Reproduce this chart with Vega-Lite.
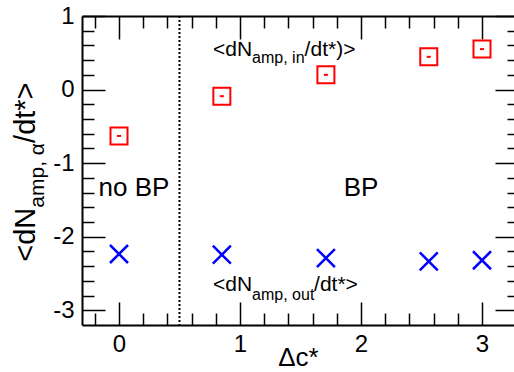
{
  "$schema": "https://vega.github.io/schema/vega-lite/v6.json",
  "width": 432,
  "height": 309,
  "autosize": {"type": "none"},
  "padding": {"left": 82, "top": 16, "right": 0, "bottom": 47},
  "background": "white",
  "config": {
    "view": {"stroke": null},
    "axis": {
      "grid": false,
      "domainColor": "black",
      "domainWidth": 2,
      "tickColor": "black",
      "tickWidth": 1.5,
      "labelFont": "Liberation Sans",
      "labelFontSize": 24,
      "labelColor": "black",
      "titleFont": "Liberation Sans",
      "titleColor": "black",
      "titleFontWeight": "normal",
      "labelOverlap": false,
      "labelFlush": false
    },
    "text": {"font": "Liberation Sans", "color": "black"}
  },
  "resolve": {"axis": {"x": "independent", "y": "independent"}},
  "layer": [
    {
      "data": {"values": [{"dc": 0.5}]},
      "mark": {"type": "rule", "color": "black", "strokeWidth": 2, "strokeDash": [2, 2]},
      "encoding": {
        "x": {"field": "dc", "type": "quantitative", "axis": null,
              "scale": {"domain": [-0.3058, 3.2645], "nice": false, "zero": false}}
      }
    },
    {
      "data": {"values": [
        {"dc": 0, "v": -0.63, "series": "in"},
        {"dc": 0.85, "v": -0.09, "series": "in"},
        {"dc": 1.71, "v": 0.2, "series": "in"},
        {"dc": 2.56, "v": 0.445, "series": "in"},
        {"dc": 3.0, "v": 0.55, "series": "in"}
      ]},
      "mark": {"type": "point", "shape": "square", "filled": false, "stroke": "#ff0000", "strokeWidth": 2, "size": 289, "opacity": 1},
      "encoding": {
        "x": {"field": "dc", "type": "quantitative",
              "scale": {"domain": [-0.3058, 3.2645], "nice": false, "zero": false},
              "axis": {
                "orient": "bottom",
                "values": [-0.2, 0, 0.2, 0.4, 0.6, 0.8, 1, 1.2, 1.4, 1.6, 1.8, 2, 2.2, 2.4, 2.6, 2.8, 3],
                "tickSize": {"condition": {"test": "abs(datum.value - round(datum.value)) < 0.001", "value": -23}, "value": -12},
                "labelExpr": "abs(datum.value - round(datum.value)) < 0.001 ? '' + round(datum.value) : ''",
                "labelPadding": 30,
                "title": "Δc*",
                "titleFontSize": 26,
                "titleBaseline": "alphabetic",
                "titleY": 40
              }},
        "y": {"field": "v", "type": "quantitative",
              "scale": {"domain": [-3.2, 1], "nice": false, "zero": false},
              "axis": {
                "orient": "left",
                "values": [-3, -2.8, -2.6, -2.4, -2.2, -2, -1.8, -1.6, -1.4, -1.2, -1, -0.8, -0.6, -0.4, -0.2, 0, 0.2, 0.4, 0.6, 0.8, 1],
                "tickSize": {"condition": {"test": "abs(datum.value - round(datum.value)) < 0.001", "value": -23}, "value": -12},
                "labelExpr": "abs(datum.value - round(datum.value)) < 0.001 ? '' + round(datum.value) : ''",
                "labelPadding": 31,
                "title": null
              }}
      }
    },
    {
      "data": {"values": [
        {"dc": 0, "v": -0.63},
        {"dc": 0.85, "v": -0.09},
        {"dc": 1.71, "v": 0.2},
        {"dc": 2.56, "v": 0.445},
        {"dc": 3.0, "v": 0.55}
      ]},
      "mark": {"type": "point", "shape": "M-1,-0.5L1,-0.5L1,0.5L-1,0.5Z", "filled": true, "fill": "#ff0000", "strokeWidth": 0, "size": 16, "opacity": 1},
      "encoding": {
        "x": {"field": "dc", "type": "quantitative", "axis": null},
        "y": {"field": "v", "type": "quantitative", "axis": null}
      }
    },
    {
      "data": {"values": [
        {"dc": 0, "v": -2.235, "series": "out"},
        {"dc": 0.85, "v": -2.245, "series": "out"},
        {"dc": 1.71, "v": -2.29, "series": "out"},
        {"dc": 2.56, "v": -2.335, "series": "out"},
        {"dc": 3.0, "v": -2.32, "series": "out"}
      ]},
      "mark": {"type": "point", "shape": "M-1,-1L1,1M-1,1L1,-1", "filled": false, "stroke": "#0000ff", "strokeWidth": 2.5, "size": 324, "opacity": 1},
      "encoding": {
        "x": {"field": "dc", "type": "quantitative",
              "axis": {
                "orient": "top",
                "values": [-0.2, 0, 0.2, 0.4, 0.6, 0.8, 1, 1.2, 1.4, 1.6, 1.8, 2, 2.2, 2.4, 2.6, 2.8, 3],
                "tickSize": {"condition": {"test": "abs(datum.value - round(datum.value)) < 0.001", "value": -23}, "value": -12},
                "labels": false,
                "title": null
              }},
        "y": {"field": "v", "type": "quantitative",
              "axis": {
                "orient": "right",
                "values": [-3, -2.8, -2.6, -2.4, -2.2, -2, -1.8, -1.6, -1.4, -1.2, -1, -0.8, -0.6, -0.4, -0.2, 0, 0.2, 0.4, 0.6, 0.8, 1],
                "tickSize": {"condition": {"test": "abs(datum.value - round(datum.value)) < 0.001", "value": -19}, "value": -7},
                "labels": false,
                "domain": false,
                "title": null
              }}
      }
    },
    {
      "data": {"values": [
        {"dc": 0.777, "v": 0.45, "t": "<dN"},
        {"dc": 1.534, "v": 0.45, "t": "/dt*)>"},
        {"dc": 0.777, "v": -2.744, "t": "<dN"},
        {"dc": 1.612, "v": -2.744, "t": "/dt*>"}
      ]},
      "mark": {"type": "text", "fontSize": 21, "align": "left", "baseline": "alphabetic"},
      "encoding": {
        "x": {"field": "dc", "type": "quantitative", "axis": null},
        "y": {"field": "v", "type": "quantitative", "axis": null},
        "text": {"field": "t"}
      }
    },
    {
      "data": {"values": [
        {"dc": 1.1, "v": 0.363, "t": "amp, in"},
        {"dc": 1.1, "v": -2.857, "t": "amp, out"}
      ]},
      "mark": {"type": "text", "fontSize": 16, "align": "left", "baseline": "alphabetic"},
      "encoding": {
        "x": {"field": "dc", "type": "quantitative", "axis": null},
        "y": {"field": "v", "type": "quantitative", "axis": null},
        "text": {"field": "t"}
      }
    },
    {
      "data": {"values": [
        {"dc": 0.124, "v": -1.44, "t": "no BP"},
        {"dc": 2.0, "v": -1.44, "t": "BP"}
      ]},
      "mark": {"type": "text", "fontSize": 26, "align": "center", "baseline": "alphabetic"},
      "encoding": {
        "x": {"field": "dc", "type": "quantitative", "axis": null},
        "y": {"field": "v", "type": "quantitative", "axis": null},
        "text": {"field": "t"}
      }
    },
    {
      "data": {"values": [
        {"v": -2.34, "t": "<dN"},
        {"v": -0.725, "t": "/dt*>"}
      ]},
      "mark": {"type": "text", "fontSize": 29, "align": "left", "baseline": "alphabetic", "angle": 270, "dy": -47},
      "encoding": {
        "x": {"datum": -0.3058, "type": "quantitative", "axis": null},
        "y": {"field": "v", "type": "quantitative", "axis": null},
        "text": {"field": "t"}
      }
    },
    {
      "data": {"values": [
        {"v": -1.605, "t": "amp, α"}
      ]},
      "mark": {"type": "text", "fontSize": 21, "align": "left", "baseline": "alphabetic", "angle": 270, "dy": -38},
      "encoding": {
        "x": {"datum": -0.3058, "type": "quantitative", "axis": null},
        "y": {"field": "v", "type": "quantitative", "axis": null},
        "text": {"field": "t"}
      }
    }
  ]
}
